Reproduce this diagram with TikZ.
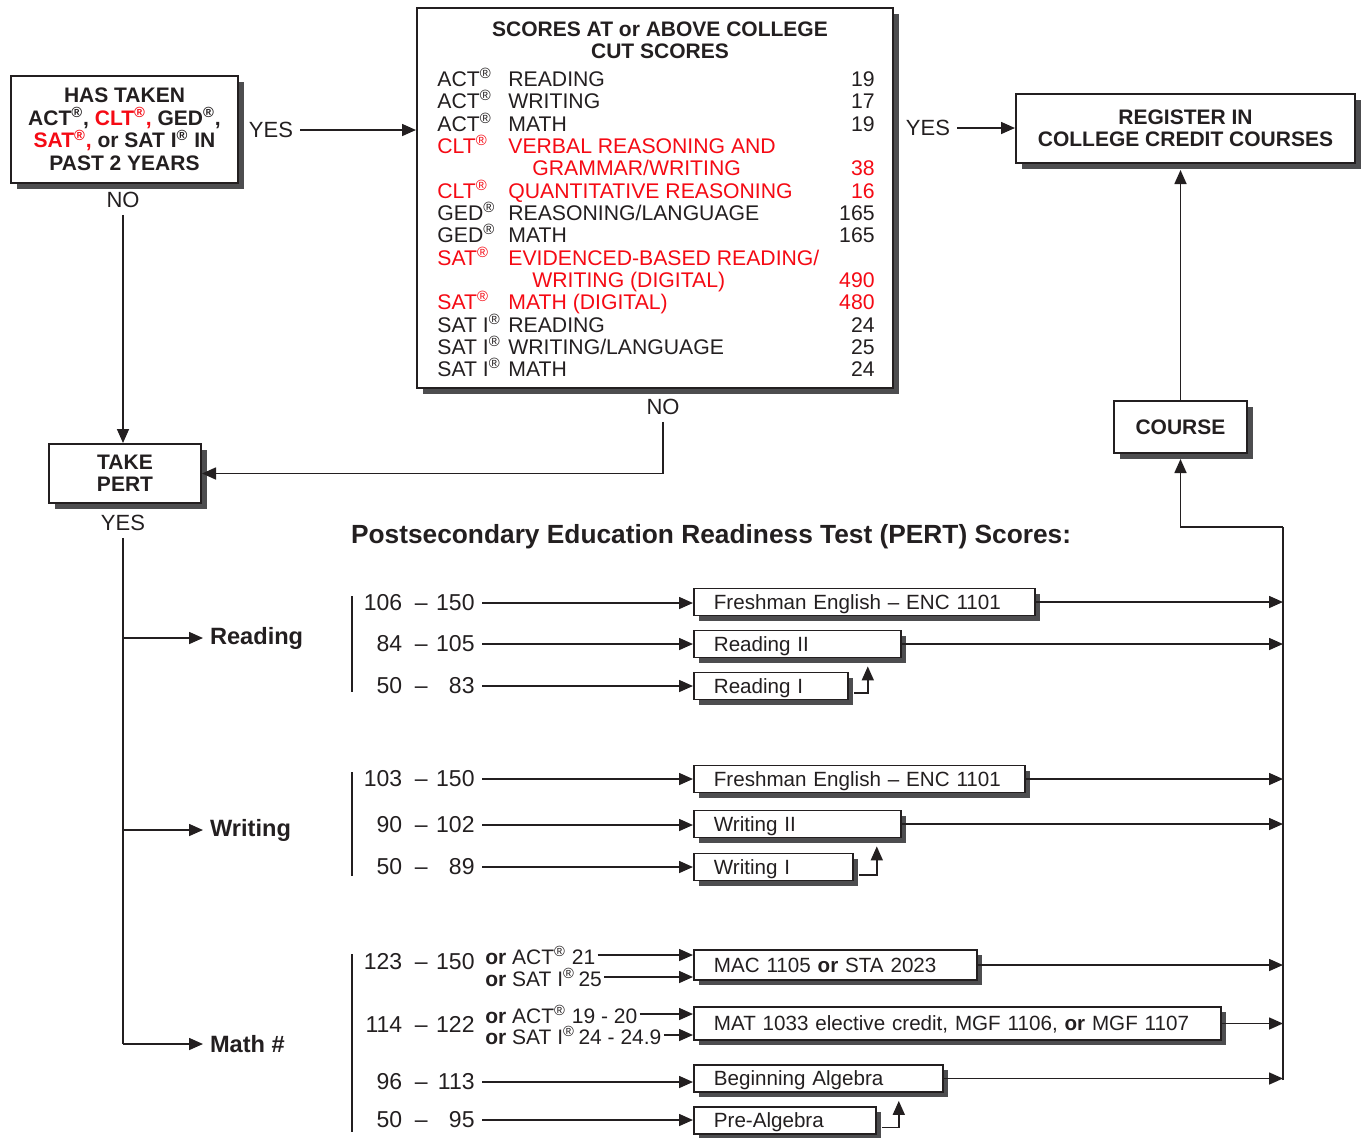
\documentclass[tikz,border=0pt]{standalone}
\usepackage{fontspec}
\setmainfont{Liberation Sans}
\usepackage{xcolor}
\usetikzlibrary{arrows.meta,shadows}

\definecolor{ink}{RGB}{35,31,32}
\definecolor{cutred}{RGB}{245,10,20}
\definecolor{shade}{RGB}{77,77,79}

\newcommand{\reg}{\textsuperscript{\textregistered}}
\newcommand{\scorerange}[2]{\makebox[20pt][r]{#1}\hspace{6.3pt}\textendash\hspace{4.3pt}\makebox[19.2pt][r]{#2}}

\tikzset{
  every node/.style={text=ink},
  flowbox/.style={draw=ink, line width=1pt, fill=white, align=center,
    font=\fontsize{10.5}{11.25}\selectfont\bfseries,
    drop shadow={shadow xshift=3pt, shadow yshift=-3pt, fill=shade, opacity=1}},
  crsbox/.style={draw=ink, line width=0.9pt, fill=white, anchor=west, align=left,
    inner xsep=10pt, inner ysep=0pt, minimum height=13.5pt,
    text height=7.4pt, text depth=0.4pt, font=\fontsize{10.3}{12}\selectfont,
    drop shadow={shadow xshift=2.5pt, shadow yshift=-2.5pt, fill=shade, opacity=1}},
  lbl/.style={font=\fontsize{11}{13}\selectfont},
  row/.style={font=\fontsize{10.6}{13}\selectfont, anchor=base west, inner sep=0pt},
  subject/.style={font=\fontsize{11.8}{14}\selectfont\bfseries, anchor=west},
  rng/.style={font=\fontsize{11.5}{13}\selectfont, anchor=east, inner xsep=3.5pt},
  alt/.style={font=\fontsize{10.5}{12}\selectfont, anchor=west, inner xsep=1pt, inner ysep=0pt},
  arr/.style={-{Triangle[length=7pt,width=6pt]}, line width=0.8pt, draw=ink},
  link/.style={line width=0.8pt, draw=ink},
}

\begin{document}
\begin{tikzpicture}[x=0.5pt, y=-0.5pt]
	\useasboundingbox (0,0) rectangle (1362,1137);
	
	% top row
	\node[flowbox, minimum width=113.5pt, minimum height=53.5pt] (taken) at (124.5,129.5)
		{HAS TAKEN\\ACT\reg, {\color{cutred}CLT\reg,} GED\reg,\\{\color{cutred}SAT\reg,} or SAT I\reg{} IN\\PAST 2 YEARS};
	\node[flowbox, minimum width=238pt, minimum height=190pt] (scores) at (655,198) {};
	\node[font=\fontsize{10.5}{11}\selectfont\bfseries, align=center] (scorehead) at (660,40)
		{SCORES AT or ABOVE COLLEGE\\CUT SCORES};
	\foreach \yy/\tst/\sx/\sub/\val/\clr in {
		86/ACT\reg/508/READING/19/ink,
		108/ACT\reg/508/WRITING/17/ink,
		131/ACT\reg/508/MATH/19/ink,
		153/CLT\reg/508/VERBAL REASONING AND//cutred,
		175//532/{GRAMMAR/WRITING}/38/cutred,
		198/CLT\reg/508/QUANTITATIVE REASONING/16/cutred,
		220/GED\reg/508/{REASONING/LANGUAGE}/165/ink,
		242/GED\reg/508/MATH/165/ink,
		265/SAT\reg/508/{EVIDENCED-BASED READING/}//cutred,
		287//532/WRITING (DIGITAL)/490/cutred,
		309/SAT\reg/508/MATH (DIGITAL)/480/cutred,
		332/SAT I\reg/508/READING/24/ink,
		354/SAT I\reg/508/{WRITING/LANGUAGE}/25/ink,
		376/SAT I\reg/508/MATH/24/ink}{
		\node[row, text=\clr] (test-\yy) at (437,\yy) {\tst};
		\node[row, text=\clr] (subj-\yy) at (\sx,\yy) {\sub};
		\node[row, text=\clr, anchor=base east] (cut-\yy) at (875,\yy) {\val};
	}
	\node[lbl] (yes1) at (271,130) {YES};
	\node[lbl] (no1) at (123,200) {NO};
	\node[lbl] (no2) at (663,407) {NO};
	\node[lbl] (yes2) at (928,128) {YES};
	\node[flowbox, minimum width=169.5pt, minimum height=34.5pt] (register) at (1185.5,128.5)
		{REGISTER IN\\COLLEGE CREDIT COURSES};
	\node[flowbox, minimum width=66.5pt, minimum height=26pt] (course) at (1180.5,427) {COURSE};
	\node[flowbox, minimum width=76pt, minimum height=29.5pt] (pert) at (125,473.5) {TAKE\\PERT};
	\node[lbl] (yes3) at (123,523) {YES};
	
	\draw[arr] (yes1) -- (yes1 -| scores.west);
	\draw[arr] (no1.south) -- (no1.south |- pert.north);
	\draw[arr] (no2) |- (pert.east);
	\draw[arr] (yes2) -- (yes2 -| register.west);
	\draw[arr, shorten >=3pt] (course.north) -- (course.north |- register.south);
	
	% PERT scores
	\node[font=\fontsize{13.15}{15}\selectfont\bfseries, anchor=west] (perthead) at (344,537)
		{Postsecondary Education Readiness Test (PERT) Scores:};
	\node[subject] (reading) at (203,638) {Reading};
	\node[subject] (writing) at (203,830) {Writing};
	\node[subject] (math) at (203,1044) {Math \#};
	\draw[link] (yes3) -- (yes3 |- math);
	\foreach \s in {reading,writing,math}
		\draw[arr] (yes3 |- \s) -- (\s);
	
	\draw[link] (352,596) -- (352,692);
	\draw[link] (352,772) -- (352,876);
	\draw[link] (352,954) -- (352,1132);
	
	\node[rng] (r-rd1) at (482,603) {\scorerange{106}{150}};
	\node[rng] (r-rd2) at (482,644) {\scorerange{84}{105}};
	\node[rng] (r-rd3) at (482,686) {\scorerange{50}{83}};
	\node[rng] (r-wr1) at (482,779) {\scorerange{103}{150}};
	\node[rng] (r-wr2) at (482,825) {\scorerange{90}{102}};
	\node[rng] (r-wr3) at (482,867) {\scorerange{50}{89}};
	\node[rng] (r-mt1) at (482,962) {\scorerange{123}{150}};
	\node[rng] (r-mt2) at (482,1024) {\scorerange{114}{122}};
	\node[rng] (r-mt3) at (482,1082) {\scorerange{96}{113}};
	\node[rng] (r-mt4) at (482,1120) {\scorerange{50}{95}};
	
	\node[alt] (act1) at (483,955) {\textbf{or} ACT\reg{} 21};
	\node[alt] (sat1) at (483,977) {\textbf{or} SAT I\reg\,25};
	\node[alt] (act2) at (483,1014) {\textbf{or} ACT\reg{} 19 - 20};
	\node[alt] (sat2) at (483,1035) {\textbf{or} SAT I\reg\,24 - 24.9};
	
	\node[crsbox, text width=150.5pt] (rd-fe) at (693,602) {Freshman English \textendash{} ENC 1101};
	\node[crsbox, text width=83.5pt] (rd-ii) at (693,644) {Reading II};
	\node[crsbox, text width=57pt] (rd-i) at (693,686) {Reading I};
	\node[crsbox, text width=145.5pt] (wr-fe) at (693,779) {Freshman English \textendash{} ENC 1101};
	\node[crsbox, text width=83.5pt] (wr-ii) at (693,824) {Writing II};
	\node[crsbox, text width=59.5pt] (wr-i) at (693,867) {Writing I};
	\node[crsbox, text width=121.5pt, minimum height=15pt] (mt-mac) at (693,965) {MAC 1105 \textbf{or} STA 2023};
	\node[crsbox, text width=243.5pt, minimum height=16.5pt] (mt-mat) at (693,1023.5)
		{MAT 1033 elective credit, MGF 1106, \textbf{or} MGF 1107};
	\node[crsbox, text width=104.5pt] (mt-ba) at (693,1078.5) {Beginning Algebra};
	\node[crsbox, text width=71pt] (mt-pa) at (693,1120.5) {Pre-Algebra};
	
	\foreach \r/\b in {r-rd1/rd-fe, r-rd2/rd-ii, r-rd3/rd-i, r-wr1/wr-fe, r-wr2/wr-ii, r-wr3/wr-i,
		r-mt3/mt-ba, r-mt4/mt-pa, act1/mt-mac, sat1/mt-mac, act2/mt-mat, sat2/mt-mat}
		\draw[arr] (\r.east) -- (\r.east -| \b.west);
	
	\draw[arr] ([xshift=2.5pt,yshift=-3.5pt]rd-i.east) -| ([xshift=-17pt,yshift=-4pt]rd-ii.south east);
	\draw[arr] ([xshift=2.5pt,yshift=-4pt]wr-i.east) -| ([xshift=-12.5pt,yshift=-4pt]wr-ii.south east);
	\draw[arr] ([xshift=2.5pt,yshift=-3.5pt]mt-pa.east) -| ([xshift=-22.5pt,yshift=-4pt]mt-ba.south east);
	
	% collector line
	\coordinate (bustop) at (1283,527);
	\coordinate (busend) at (1283,1080);
	\draw[link] (busend) -- (bustop);
	\draw[arr, shorten >=2.5pt] (bustop) -| (course.south);
	\foreach \b in {rd-fe, rd-ii, wr-fe, wr-ii, mt-mac, mt-mat, mt-ba}
		\draw[arr] (\b.east) -- (\b.east -| bustop);
\end{tikzpicture}
\end{document}
